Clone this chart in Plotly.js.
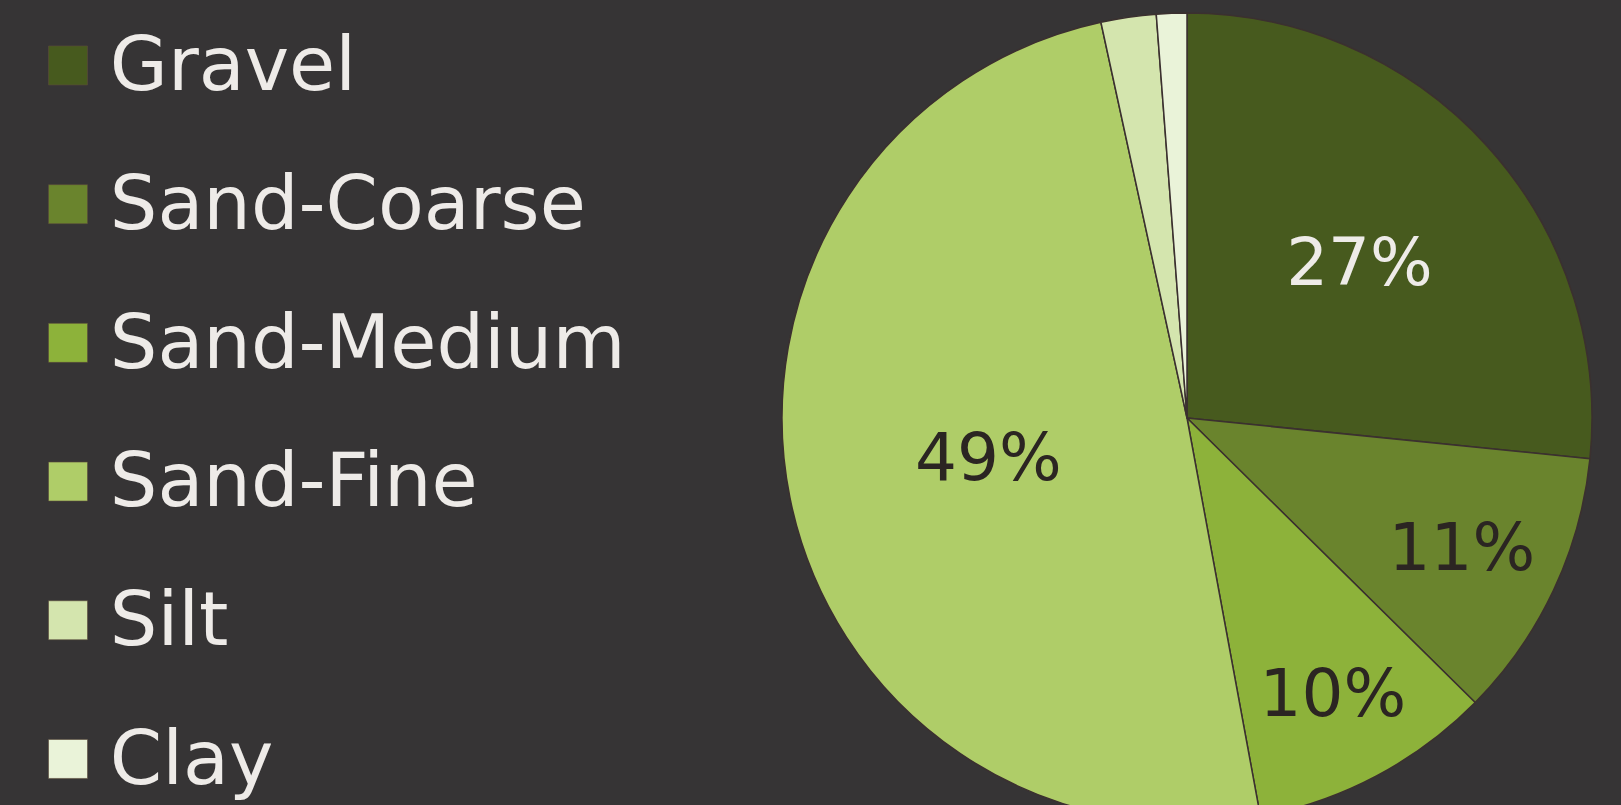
<!DOCTYPE html>
<html>
<head>
<meta charset="utf-8">
<script src="https://cdn.plot.ly/plotly-3.0.1.min.js"></script>
<style>
  html, body { margin:0; padding:0; width:1621px; height:805px; overflow:hidden; background:#363435; }
  #chart { position:absolute; left:0; top:-200px; width:1621px; height:1100px; }
</style>
</head>
<body>
<div id="chart"></div>
<script>
// ---- data ----
const categories = ["Gravel", "Sand-Coarse", "Sand-Medium", "Sand-Fine", "Silt", "Clay"];
const shares = [26.6, 10.8, 9.7, 49.49, 2.2, 1.21];
const sliceColors = ["#475a1e", "#6a842d", "#8db23a", "#afcd68", "#d4e5ae", "#eaf3d9"];
const labelColors = ["#eeebe8", "#2b2522", "#2b2522", "#2b2522", "#2b2522", "#2b2522"];
const labelPositions = ["inside", "inside", "inside", "inside", "none", "none"];

const idx = categories.map((c, i) => i);
const zeros = categories.map(() => 0);
const ones = categories.map(() => 1);

const pie = {
  type: "pie",
  labels: categories,
  values: shares,
  sort: false,
  direction: "clockwise",
  rotation: 0,
  marker: { colors: sliceColors, line: { color: "#3b302f", width: 1.5 } },
  texttemplate: "%{percent:.0%}",
  textposition: labelPositions,
  insidetextorientation: "horizontal",
  textfont: { family: "DejaVu Sans", size: 66, color: labelColors },
  domain: { x: [0.48242, 0.98211], y: [0.07, 0.80636] },
  showlegend: false,
  hoverinfo: "label+percent"
};

const legendMarks = {
  type: "scatter",
  mode: "markers",
  x: zeros,
  y: idx,
  xaxis: "x", yaxis: "y",
  marker: { symbol: "square", size: 39, color: sliceColors, line: { color: "#5a4a3a", width: 0.6 } },
  showlegend: false,
  hoverinfo: "skip"
};

const legendText = {
  type: "scatter",
  mode: "text",
  x: ones,
  y: idx,
  xaxis: "x", yaxis: "y2",
  text: categories,
  textposition: "middle right",
  textfont: { family: "DejaVu Sans", size: 75, color: "#eeebe8" },
  showlegend: false,
  hoverinfo: "skip"
};

const layout = {
  width: 1621,
  height: 1100,
  margin: { l: 0, r: 0, t: 0, b: 0 },
  paper_bgcolor: "#363435",
  plot_bgcolor: "rgba(0,0,0,0)",
  xaxis: { domain: [0, 1], range: [-1.627, 37.153], visible: false, fixedrange: true },
  yaxis: { domain: [0, 1], range: [6.017, -1.914], visible: false, fixedrange: true },
  yaxis2: { domain: [0, 1], range: [5.974, -1.957], visible: false, fixedrange: true, overlaying: "y" },
  showlegend: false
};

Plotly.newPlot("chart", [pie, legendMarks, legendText], layout, { displayModeBar: false, staticPlot: true });
</script>
</body>
</html>
